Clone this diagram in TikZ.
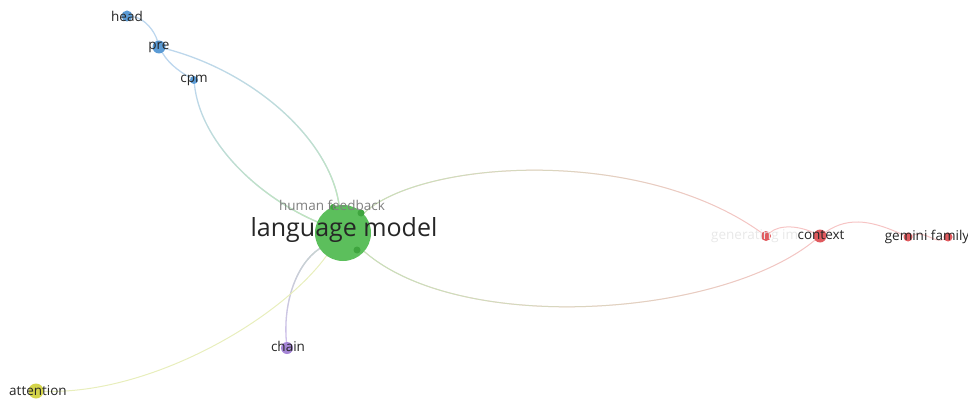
\documentclass[tikz,border=0pt]{standalone}
\usepackage{fontspec}
\setmainfont{Open Sans}
\usetikzlibrary{fadings}
\definecolor{nblue}{HTML}{5B9BD5}
\definecolor{eblue}{HTML}{BDD7EE}
\definecolor{ngreen}{HTML}{5CBF5C}
\definecolor{dgreen}{HTML}{3FA53F}
\definecolor{egreen}{HTML}{C2E5BA}
\definecolor{nred}{HTML}{E05A5E}
\definecolor{ered}{HTML}{F6C4C4}
\definecolor{npurple}{HTML}{A585D6}
\definecolor{epurple}{HTML}{CFC0EC}
\definecolor{nyellow}{HTML}{D4D44A}
\definecolor{eyellow}{HTML}{E8EEBC}
\tikzset{
  dot/.style={circle, inner sep=0pt, draw=none},
  lbl/.style={font=\fontsize{13.5}{15}\selectfont, text=black!85, inner sep=0pt},
  edge/.style={line width=1.3pt, line cap=round},
  thinedge/.style={line width=1pt, line cap=round},
}
\begin{document}
\begin{tikzpicture}[x=1pt,y=-1pt]
\useasboundingbox (0,0) rectangle (968,401);
% nodes (dots)
\node[dot, minimum size=11pt] (head) at (127,16) {};
\node[dot, minimum size=13pt] (pre) at (159,47) {};
\node[dot, minimum size=8pt] (cpm) at (194,80) {};
\node[dot, minimum size=10pt] (gen) at (766,236) {};
\node[dot, minimum size=13pt] (ctx) at (820,236) {};
\node[dot, minimum size=9pt] (gem1) at (908,237) {};
\node[dot, minimum size=9pt] (gem2) at (948,237) {};
\node[dot, minimum size=12pt] (chain) at (287,348) {};
\node[dot, minimum size=15pt] (att) at (36,391) {};
\node[dot, minimum size=56pt] (lm) at (343,233) {};
% edges
\draw[edge, eblue] (head) .. controls (145,18) and (155,32) .. (pre);
\draw[edge, eblue] (pre) .. controls (170,66) and (184,74) .. (cpm);
\draw[edge, eblue] (cpm) .. controls (200,140) and (255,195) .. (lm);
\draw[edge, egreen, path fading=north] (cpm) .. controls (200,140) and (255,195) .. (lm);
\draw[edge, eblue] (pre) .. controls (255,72) and (330,140) .. (lm);
\draw[edge, egreen, path fading=north] (pre) .. controls (255,72) and (330,140) .. (lm);
\draw[thinedge, ered] (lm) .. controls (420,160) and (640,145) .. (gen);
\draw[thinedge, egreen, path fading=east] (lm) .. controls (420,160) and (640,145) .. (gen);
\draw[thinedge, ered] (lm) .. controls (460,335) and (720,318) .. (ctx);
\draw[thinedge, egreen, path fading=east] (lm) .. controls (460,335) and (720,318) .. (ctx);
\draw[thinedge, ered] (gen) .. controls (780,224) and (800,226) .. (ctx);
\draw[thinedge, ered] (ctx) .. controls (850,215) and (875,222) .. (gem1);
\draw[thinedge, ered] (gem1) .. controls (925,230) and (935,244) .. (gem2);
\draw[edge, epurple] (lm) .. controls (295,265) and (283,305) .. (chain);
\draw[edge, egreen!60!epurple, path fading=south] (lm) .. controls (295,265) and (283,305) .. (chain);
\draw[thinedge, eyellow] (lm) .. controls (280,320) and (150,395) .. (att);
% dots over edges
\fill[nblue] (head) circle (5.5pt);
\fill[nblue] (pre) circle (6.5pt);
\fill[nblue] (cpm) circle (4pt);
\fill[nred] (gen) circle (5pt);
\fill[nred] (ctx) circle (6.5pt);
\fill[nred] (gem1) circle (4.5pt);
\fill[nred] (gem2) circle (4.5pt);
\fill[npurple] (chain) circle (6pt);
\fill[nyellow] (att) circle (7.5pt);
\fill[ngreen] (lm) circle (28pt);
\node[dot, fill=dgreen, minimum size=7pt] (hf) at (361,213) {};
\node[dot, fill=dgreen, minimum size=7pt] (g2) at (357,250) {};
\node[dot, fill=dgreen, minimum size=6pt] (g3) at (333,207) {};
% labels
\node[lbl] at (127,16) {head};
\node[lbl] at (159,47) {pre};
\node[lbl] at (194,80) {cpm};
\node[lbl, text=black!50] at (332,205) {human feedback};
\node[lbl, font=\fontsize{25}{28}\selectfont, text=black!85] at (344,230) {language model};
\node[lbl, text=black!9, anchor=west] at (711,236) {generating im};
\node[lbl] at (821,235) {context};
\node[lbl] at (927,237) {gemini family};
\node[lbl] at (288,346) {chain};
\node[lbl] at (38,391) {attention};
\end{tikzpicture}
\end{document}
